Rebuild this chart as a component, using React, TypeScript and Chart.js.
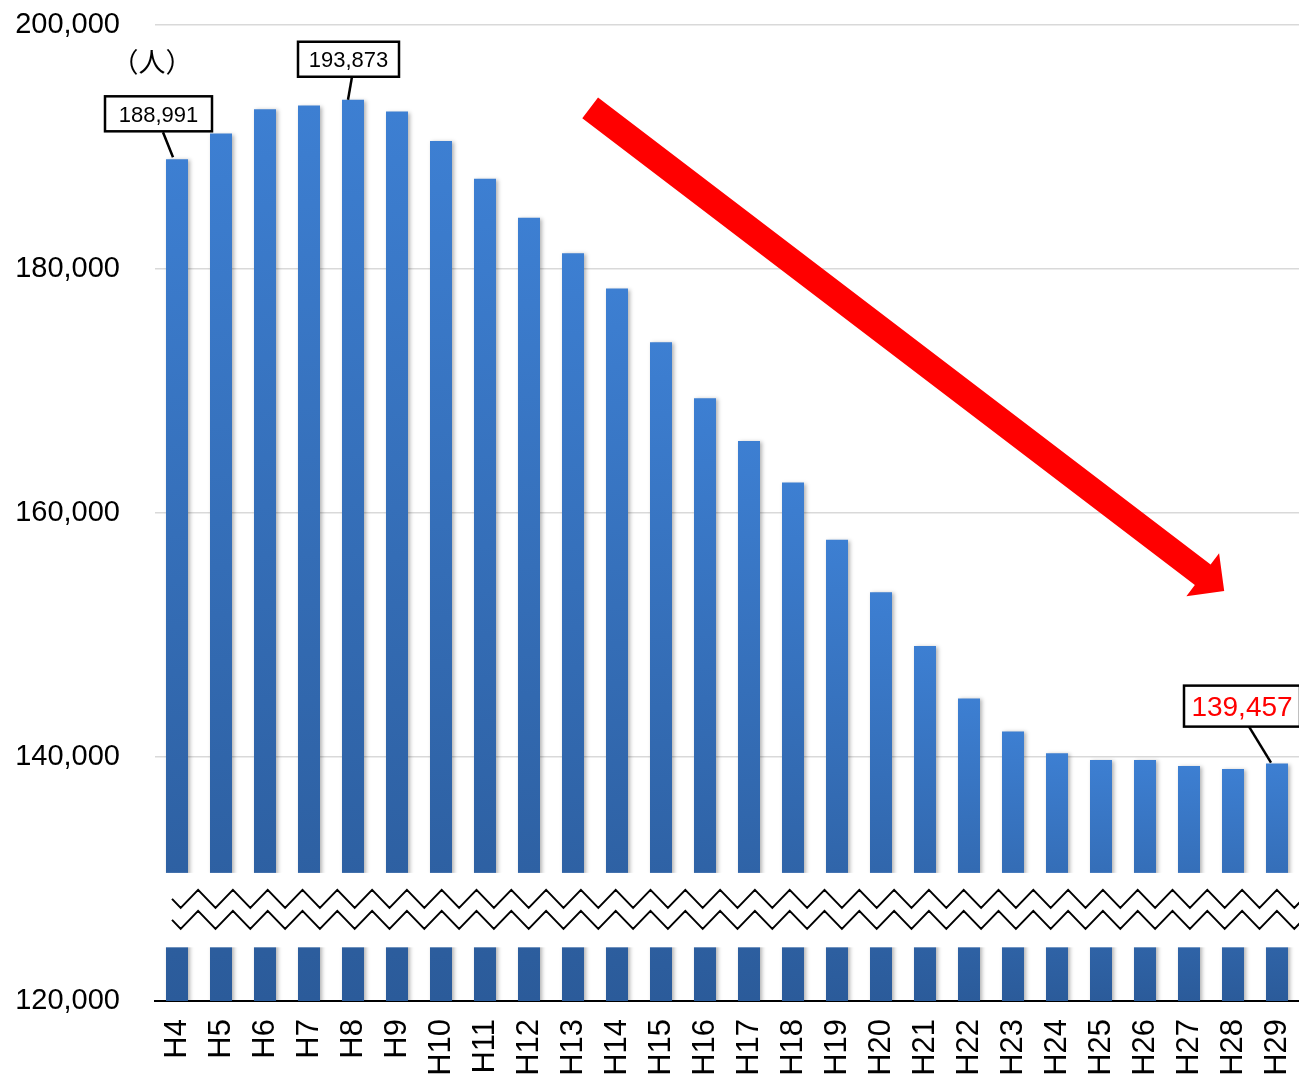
import React, { useEffect, useRef } from 'react';
import { Chart, registerables } from 'chart.js';

Chart.register(...registerables);

// ---- data ----
const categories = ['H4', 'H5', 'H6', 'H7', 'H8', 'H9', 'H10', 'H11', 'H12', 'H13', 'H14', 'H15', 'H16', 'H17', 'H18', 'H19', 'H20', 'H21', 'H22', 'H23', 'H24', 'H25', 'H26', 'H27', 'H28', 'H29'];
const population = [188991, 191100, 193100, 193400, 193873, 192900, 190500, 187400, 184200, 181300, 178400, 174000, 169400, 165900, 162500, 157800, 153500, 149100, 144800, 142100, 140300, 139750, 139750, 139260, 139020, 139457];
const yTickValues = [120000, 140000, 160000, 180000, 200000];
const unitLabel = '（人）';
const calloutIndices = [0, 4, 25];
const breakRange = [124400, 130500];
const trendFrom = [9.39, 193200];
const trendTo = [23.8, 153600];

const fmt = (v: number) => v.toLocaleString('en-US');

const decorPlugin = {
  id: 'decor',
  beforeDatasetsDraw(chart: any) {
    const ctx = chart.ctx;
    ctx.save();
    ctx.shadowColor = 'rgba(0,0,0,0.30)';
    ctx.shadowBlur = 4;
    ctx.shadowOffsetX = 2;
    ctx.shadowOffsetY = 1;
  },
  afterDatasetsDraw(chart: any) {
    const ctx = chart.ctx;
    ctx.restore();
    const { left, right } = chart.chartArea;
    const y = chart.scales.y;
    const yTop = y.getPixelForValue(breakRange[1]);
    const yBot = y.getPixelForValue(breakRange[0]);
    ctx.save();
    ctx.fillStyle = '#ffffff';
    ctx.fillRect(left, yTop, right - left + 2, yBot - yTop);
    ctx.strokeStyle = '#000000';
    ctx.lineWidth = 2;
    const period = 34.8;
    const amp = 9;
    const drawZig = (midY: number) => {
      ctx.beginPath();
      let x = left + 17;
      ctx.moveTo(x, midY);
      let phase = 0;
      let nx = x + period / 4;
      ctx.lineTo(nx, midY + amp);
      x = nx;
      while (x < right) {
        nx = x + period / 2;
        ctx.lineTo(nx, phase === 0 ? midY - amp : midY + amp);
        phase = 1 - phase;
        x = nx;
      }
      ctx.stroke();
    };
    const zigTop = yTop + 26;
    drawZig(zigTop);
    drawZig(zigTop + 21);
    ctx.restore();
  },
  afterDraw(chart: any) {
    const ctx = chart.ctx;
    const meta = chart.getDatasetMeta(0);
    const xs = chart.scales.x;
    const ys = chart.scales.y;
    ctx.save();

    // trend arrow
    const sx = xs.getPixelForValue(trendFrom[0]);
    const sy = ys.getPixelForValue(trendFrom[1]);
    const tx = xs.getPixelForValue(trendTo[0]);
    const ty = ys.getPixelForValue(trendTo[1]);
    const dx = tx - sx, dy = ty - sy;
    const len = Math.hypot(dx, dy);
    const ux = dx / len, uy = dy / len;
    const nx = -uy, ny = ux;
    const hw = 13, headLen = 27, headHw = 27;
    const bx = tx - ux * headLen, by = ty - uy * headLen;
    ctx.fillStyle = '#ff0000';
    ctx.beginPath();
    ctx.moveTo(sx + nx * hw, sy + ny * hw);
    ctx.lineTo(bx + nx * hw, by + ny * hw);
    ctx.lineTo(bx + nx * headHw, by + ny * headHw);
    ctx.lineTo(tx, ty);
    ctx.lineTo(bx - nx * headHw, by - ny * headHw);
    ctx.lineTo(bx - nx * hw, by - ny * hw);
    ctx.lineTo(sx - nx * hw, sy - ny * hw);
    ctx.closePath();
    ctx.fill();

    // unit label
    ctx.fillStyle = '#000000';
    ctx.font = '27px "Noto Sans CJK JP", sans-serif';
    ctx.textAlign = 'center';
    ctx.textBaseline = 'middle';
    ctx.fillText(unitLabel, 152, 62);

    // callouts
    const specs: any = {
      0: { bx: -72, by: -63, w: 107, h: 35, l1: [-14, -27], l2: [-4, -2], color: '#000000', size: 22 },
      4: { bx: -55, by: -58, w: 101, h: 35, l1: [-1, -23], l2: [-5, 0], color: '#000000', size: 22 },
      25: { bx: -93, by: -78, w: 116, h: 41, l1: [-28, -37], l2: [-6, -1], color: '#ff0000', size: 28 },
    };
    calloutIndices.forEach((i) => {
      const el = meta.data[i];
      const s = specs[i];
      if (!el || !s) return;
      const x = el.x, y = el.y;
      ctx.lineWidth = 2.5;
      ctx.strokeStyle = '#000000';
      ctx.beginPath();
      ctx.moveTo(x + s.l1[0], y + s.l1[1]);
      ctx.lineTo(x + s.l2[0], y + s.l2[1]);
      ctx.stroke();
      ctx.fillStyle = '#ffffff';
      ctx.fillRect(x + s.bx, y + s.by, s.w, s.h);
      ctx.strokeRect(x + s.bx, y + s.by, s.w, s.h);
      ctx.fillStyle = s.color;
      ctx.font = `${s.size}px "Liberation Sans", Arial, sans-serif`;
      ctx.textAlign = 'center';
      ctx.textBaseline = 'middle';
      ctx.fillText(fmt(population[i]), x + s.bx + s.w / 2, y + s.by + s.h / 2 + 2);
    });
    ctx.restore();
  },
};

export default function App() {
  const ref = useRef<HTMLCanvasElement | null>(null);
  useEffect(() => {
    if (!ref.current) return;
    const chart = new Chart(ref.current, {
      type: 'bar',
      data: {
        labels: categories,
        datasets: [
          {
            data: population,
            barPercentage: 0.5,
            categoryPercentage: 1,
            backgroundColor: (c: any) => {
              const ch = c.chart;
              if (!ch.chartArea || c.raw == null) return '#3a78c6';
              const ys = ch.scales.y;
              const top = ys.getPixelForValue(c.raw);
              const bot = ys.getPixelForValue(yTickValues[0]);
              const g = ch.ctx.createLinearGradient(0, top, 0, bot);
              g.addColorStop(0, '#3d7fd2');
              g.addColorStop(1, '#2b5b9a');
              return g;
            },
            borderWidth: 0,
          },
        ],
      },
      options: {
        responsive: false,
        animation: false,
        layout: { padding: { top: 25, right: 0, left: 0, bottom: 0 } },
        plugins: { legend: { display: false }, tooltip: { enabled: false } },
        scales: {
          x: {
            grid: { display: false, drawTicks: false },
            border: { display: true, color: '#000000', width: 2 },
            ticks: {
              color: '#000000',
              font: { size: 31, family: '"Liberation Sans", Arial, sans-serif' },
              minRotation: 90,
              maxRotation: 90,
              padding: 18,
              autoSkip: false,
            },
            afterFit: (s: any) => {
              s.height = 79;
              s.paddingLeft = 0; s.paddingRight = 0; s.paddingTop = 0; s.paddingBottom = 0;
            },
          },
          y: {
            min: yTickValues[0],
            max: yTickValues[yTickValues.length - 1],
            afterBuildTicks: (s: any) => { s.ticks = yTickValues.map((v) => ({ value: v })); },
            grid: { color: '#d9d9d9', lineWidth: 1.5, drawTicks: false },
            border: { display: false },
            ticks: {
              color: '#000000',
              font: { size: 29, family: '"Liberation Sans", Arial, sans-serif' },
              padding: 35,
              callback: (v: any) => fmt(Number(v)),
            },
            afterFit: (s: any) => {
              s.width = 155;
              s.paddingLeft = 0; s.paddingRight = 0; s.paddingTop = 0; s.paddingBottom = 0;
            },
          },
        },
      },
      plugins: [decorPlugin],
    } as any);
    return () => chart.destroy();
  }, []);
  return (
    <div style={{ position: 'fixed', left: 0, top: 0, width: 1299, height: 1080, background: '#fff' }}>
      <canvas ref={ref} width={1299} height={1080} style={{ width: 1299, height: 1080, display: 'block' }} />
    </div>
  );
}
